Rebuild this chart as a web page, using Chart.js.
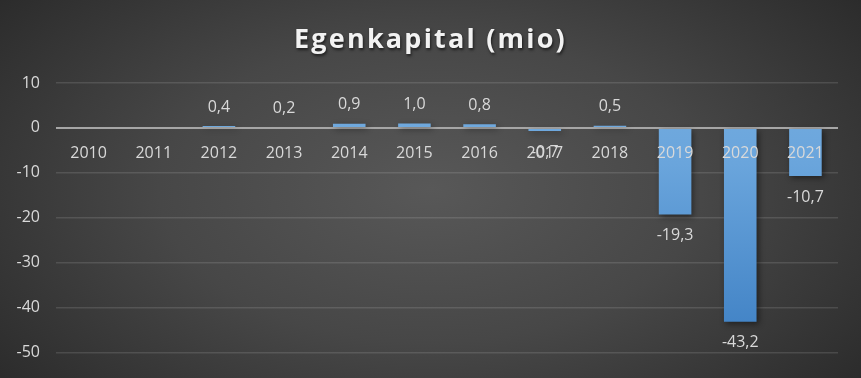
<!DOCTYPE html>
<html>
<head>
<meta charset="utf-8">
<script src="https://cdn.jsdelivr.net/npm/chart.js"></script>
<style>
  html, body { margin: 0; padding: 0; }
  body { width: 861px; height: 378px; overflow: hidden; }
  #wrap {
    position: relative; width: 861px; height: 378px;
    background: radial-gradient(ellipse 70% 90% at 50% 50%, #585858 0%, #474747 45%, #262626 100%);
  }
  #title {
    position: absolute; left: 0; right: 0; top: 19px; text-align: center;
    font-family: "Open Sans", sans-serif; font-weight: bold; font-size: 27px;
    letter-spacing: 2.2px; color: #f2f2f2; text-shadow: 1px 2px 3px rgba(0,0,0,0.6);
  }
  canvas { position: absolute; left: 0; top: 0; }
</style>
</head>
<body>
<div id="wrap">
  <canvas id="chart" width="861" height="378"></canvas>
  <div id="title">Egenkapital (mio)</div>
</div>
<script>
// Data
const years = ['2010', '2011', '2012', '2013', '2014', '2015', '2016', '2017', '2018', '2019', '2020', '2021'];
const equity = [null, null, 0.4, 0.2, 0.9, 1.0, 0.8, -0.7, 0.5, -19.3, -43.2, -10.7];
const yTicks = [10, 0, -10, -20, -30, -40, -50];

const textColor = '#d9d9d9';
const font = { family: '"Open Sans", sans-serif', size: 16 };

function fmt(v) {
  return v.toFixed(1).replace('.', ',');
}

// bar value labels + category labels under the zero line
const labelPlugin = {
  id: 'labels',
  afterDatasetsDraw(chart) {
    const ctx = chart.ctx;
    const x = chart.scales.x;
    const y = chart.scales.y;
    const zeroY = y.getPixelForValue(0);
    ctx.save();
    ctx.font = `${font.size}px ${font.family}`;
    ctx.fillStyle = textColor;
    ctx.textAlign = 'center';
    ctx.textBaseline = 'middle';
    years.forEach((yr, i) => {
      ctx.fillText(yr, x.getPixelForValue(i), zeroY + 26);
    });
    const meta = chart.getDatasetMeta(0);
    meta.data.forEach((bar, i) => {
      const v = equity[i];
      if (v === null) return;
      const yy = v >= 0 ? bar.y - 19 : bar.y + 21;
      ctx.fillText(fmt(v), bar.x, yy);
    });
    ctx.restore();
  }
};

// soft shadow under the bars
const shadowPlugin = {
  id: 'barShadow',
  beforeDatasetsDraw(chart) {
    const ctx = chart.ctx;
    ctx.save();
    ctx.shadowColor = 'rgba(0,0,0,0.45)';
    ctx.shadowBlur = 6;
    ctx.shadowOffsetX = 2;
    ctx.shadowOffsetY = 2;
  },
  afterDatasetsDraw(chart) {
    chart.ctx.restore();
  }
};

const ctx = document.getElementById('chart').getContext('2d');
new Chart(ctx, {
  type: 'bar',
  data: {
    labels: years,
    datasets: [{
      label: 'Egenkapital',
      data: equity,
      backgroundColor: function(context) {
        const area = context.chart.chartArea;
        if (!area) return '#5b9bd5';
        const g = context.chart.ctx.createLinearGradient(0, area.top, 0, area.bottom);
        g.addColorStop(0, '#74acdf');
        g.addColorStop(0.3, '#6aa5dc');
        g.addColorStop(1, '#3d7fc3');
        return g;
      },
      barPercentage: 0.5,
      categoryPercentage: 1.0
    }]
  },
  options: {
    responsive: false,
    animation: false,
    layout: { padding: { top: 83, right: 23, bottom: 21, left: 0 } },
    plugins: {
      legend: { display: false },
      tooltip: { enabled: false },
      title: { display: false }
    },
    scales: {
      x: {
        display: false
      },
      y: {
        min: -50,
        max: 10,
        afterBuildTicks: scale => { scale.ticks = yTicks.map(v => ({ value: v })); },
        afterFit: scale => { scale.width = 56; },
        border: { display: false },
        grid: {
          drawTicks: false,
          color: ctx => ctx.tick && ctx.tick.value === 0 ? '#a6a6a6' : 'rgba(255,255,255,0.12)',
          lineWidth: ctx => ctx.tick && ctx.tick.value === 0 ? 2 : 1.5
        },
        ticks: {
          color: textColor,
          font: font,
          padding: 16
        }
      }
    }
  },
  plugins: [shadowPlugin, labelPlugin]
});
</script>
</body>
</html>
